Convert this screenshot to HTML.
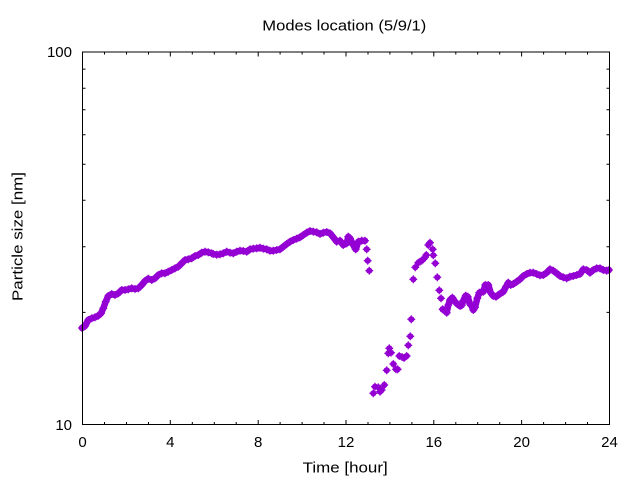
<!DOCTYPE html>
<html><head><meta charset="utf-8"><style>
html,body{margin:0;padding:0;background:#fff;}
svg{display:block;font-family:"Liberation Sans","DejaVu Sans",sans-serif;}
</style></head><body>
<svg width="640" height="480" viewBox="0 0 640 480" xmlns="http://www.w3.org/2000/svg">
<defs>
<g id="m" fill="#9400d3" stroke="#9400d3">
<circle cx="0" cy="0" r="3.1" stroke="none"/>
<path d="M-3.9 0H3.9M0 -3.9V3.9" stroke-width="1.3" fill="none"/>
</g>
<marker id="mk" markerUnits="userSpaceOnUse" markerWidth="10" markerHeight="10" refX="5" refY="5" overflow="visible">
<g transform="translate(5,5)">
<circle cx="0" cy="0" r="3.1" fill="#9400d3"/>
<path d="M-3.9 0H3.9M0 -3.9V3.9" stroke="#9400d3" stroke-width="1.3" fill="none"/>
</g>
</marker>
</defs>
<rect width="640" height="480" fill="#fff"/>

<!-- ticks -->
<g stroke="#000" stroke-width="1" fill="none">
<path d="M104.5 424.5v-2.5M126.5 424.5v-2.5M148.5 424.5v-2.5M170.3 424.5v-4.5M192.3 424.5v-2.5M214.3 424.5v-2.5M236.2 424.5v-2.5M258.2 424.5v-4.5M280.1 424.5v-2.5M302.1 424.5v-2.5M324 424.5v-2.5M346 424.5v-4.5M368 424.5v-2.5M389.9 424.5v-2.5M411.9 424.5v-2.5M433.8 424.5v-4.5M455.8 424.5v-2.5M477.7 424.5v-2.5M499.7 424.5v-2.5M521.6 424.5v-4.5M543.6 424.5v-2.5M565.6 424.5v-2.5M587.5 424.5v-2.5"/>
<path d="M104.5 52v2.5M126.5 52v2.5M148.5 52v2.5M170.3 52v4.5M192.3 52v2.5M214.3 52v2.5M236.2 52v2.5M258.2 52v4.5M280.1 52v2.5M302.1 52v2.5M324 52v2.5M346 52v4.5M368 52v2.5M389.9 52v2.5M411.9 52v2.5M433.8 52v4.5M455.8 52v2.5M477.7 52v2.5M499.7 52v2.5M521.6 52v4.5M543.6 52v2.5M565.6 52v2.5M587.5 52v2.5"/>
<path d="M82.5 312.4h3M82.5 246.8h3M82.5 200.3h3M82.5 164.2h3M82.5 134.7h3M82.5 109.8h3M82.5 88.2h3M82.5 69.1h3"/>
<path d="M609.5 312.4h-3M609.5 246.8h-3M609.5 200.3h-3M609.5 164.2h-3M609.5 134.7h-3M609.5 109.8h-3M609.5 88.2h-3M609.5 69.1h-3"/>
</g>

<!-- data -->
<polyline fill="none" stroke="#9400d3" stroke-width="6.5" stroke-linejoin="round" stroke-linecap="round" marker-start="url(#mk)" marker-mid="url(#mk)" marker-end="url(#mk)" points="82,328 85,326 88.3,320 91.7,318.3 95,317.3 98.3,315.7 101,313.3 103.3,308.3 105.7,301.7 108.3,296 111.7,294 115,295 118.3,293.3 121.7,290 125,290 128.3,289.3 131.7,288.3 135,289 138.3,288.3 141.7,285 145,281 148.3,278.7 151.7,280 155,278.3 158.3,275 161.7,273.3 165,273.3 168.3,271.7 171.7,270 175,268.3 178.3,266.7 181.7,263.3 185,260 188.3,259.3 191.7,258.3 195,256 198.3,255 201.7,252.7 205,251.7 208.3,252.3 211.7,253.3 213.3,254 216.7,254.7 220,254.3 223.3,253.3 226.7,251.7 230,252.7 233.3,253.3 236.7,251.7 240,250.7 243.3,251 246.7,251.7 250,249.3 253.3,248.7 256.7,248.3 260,247.7 263.3,248.7 266.7,249.3 270,250.7 273.3,250.7 276.7,250 280,249.3 283.3,246.7 286.7,244 290,241.7 293.3,240 296.7,238.7 300,237.3 303.3,235 306.7,232.7 310,231 313.3,231.7 316.7,232.3 320,234 323.3,232.7 326.7,232 330,233.3 333.3,237.3 336.7,241.7 340,240.7 343.3,245 346.7,243.3 348.3,236.7 350,238.3 353.3,245 355.7,249.3 358.3,241.7 361.7,240.7 365,240.7"/>

<polyline fill="none" stroke="#9400d3" stroke-width="6.5" stroke-linejoin="round" stroke-linecap="round" marker-start="url(#mk)" marker-mid="url(#mk)" marker-end="url(#mk)" points="442.7,309.3 445,310.7 446.7,312.7 448.3,305 450,300 452.3,297.7 455,301.7 457.3,304 460,306 461.7,305.3 463.3,300.7 465.7,295.7 467.7,296.7 470,304 471.7,306 473.3,310 475,307.3 477.3,298.3 479.3,292.7 481.7,291.7 483.3,291.7 485.3,285 488.3,285 490.7,292.7 493.3,296 496,296.7 498.3,295 500.7,293.3 503.3,291.7 506,286.7 508.3,282.7 510.7,285 513.3,284 516.7,281.7 520,279.3 523.3,276 526.7,274 530,272.7 533.3,272.7 536.7,274 540,275.3 543.3,275 546.7,272.7 550,269.3 553.3,270.7 556.7,273.3 560,276 563.3,277.3 566.7,278.3 570,276.7 573.3,276 576.7,275 580,274 583.3,269.3 586.7,270 590,272.7 593.3,270 596.7,268.3 600,268.3 603.3,270 606.7,270.7 609,270"/>

<g>
<use href="#m" x="366.7" y="249.3"/>
<use href="#m" x="367.7" y="260.7"/>
<use href="#m" x="369.3" y="270.7"/>
<use href="#m" x="373.3" y="393.3"/>
<use href="#m" x="375" y="386.7"/>
<use href="#m" x="378.3" y="387.3"/>
<use href="#m" x="380" y="391.7"/>
<use href="#m" x="381.7" y="390"/>
<use href="#m" x="384.3" y="385"/>
<use href="#m" x="386.7" y="370.3"/>
<use href="#m" x="388.3" y="353.3"/>
<use href="#m" x="389.3" y="348.3"/>
<use href="#m" x="391" y="352.7"/>
<use href="#m" x="393.3" y="364"/>
<use href="#m" x="396" y="369.3"/>
<use href="#m" x="397.7" y="369.3"/>
<use href="#m" x="399.3" y="356"/>
<use href="#m" x="402" y="357"/>
<use href="#m" x="404" y="358"/>
<use href="#m" x="406.7" y="356"/>
<use href="#m" x="408.3" y="345.3"/>
<use href="#m" x="410.3" y="336.3"/>
<use href="#m" x="411.3" y="319.3"/>
<use href="#m" x="413.3" y="279.3"/>
<use href="#m" x="415.3" y="267.3"/>
<use href="#m" x="418.3" y="262.7"/>
<use href="#m" x="420" y="261.7"/>
<use href="#m" x="421.7" y="260.7"/>
<use href="#m" x="423.3" y="259.3"/>
<use href="#m" x="425" y="257.3"/>
<use href="#m" x="426.3" y="255"/>
<use href="#m" x="428.3" y="245"/>
<use href="#m" x="430" y="242.7"/>
<use href="#m" x="432.7" y="249.3"/>
<use href="#m" x="433.3" y="255.3"/>
<use href="#m" x="435.3" y="263.3"/>
<use href="#m" x="437.3" y="277.3"/>
<use href="#m" x="439.3" y="290.3"/>
<use href="#m" x="441" y="298.3"/>
</g>

<!-- frame -->
<rect x="82.5" y="52" width="527" height="372.5" fill="none" stroke="#000" stroke-width="1"/>

<!-- labels -->
<g fill="#000" font-size="15">
<text x="262.3" y="30.6" textLength="164" lengthAdjust="spacingAndGlyphs">Modes location (5/9/1)</text>
<text x="72" y="57" text-anchor="end">100</text>
<text x="72" y="430" text-anchor="end">10</text>
<text x="82.5" y="447" text-anchor="middle">0</text>
<text x="170.3" y="447" text-anchor="middle">4</text>
<text x="258.2" y="447" text-anchor="middle">8</text>
<text x="346" y="447" text-anchor="middle">12</text>
<text x="433.8" y="447" text-anchor="middle">16</text>
<text x="521.6" y="447" text-anchor="middle">20</text>
<text x="609.5" y="447" text-anchor="middle">24</text>
<text x="302.7" y="472.3" textLength="85" lengthAdjust="spacingAndGlyphs">Time [hour]</text>
<text transform="translate(22.3,301) rotate(-90)" x="0" y="0" textLength="129" lengthAdjust="spacingAndGlyphs">Particle size [nm]</text>
</g>
</svg>
</body></html>
